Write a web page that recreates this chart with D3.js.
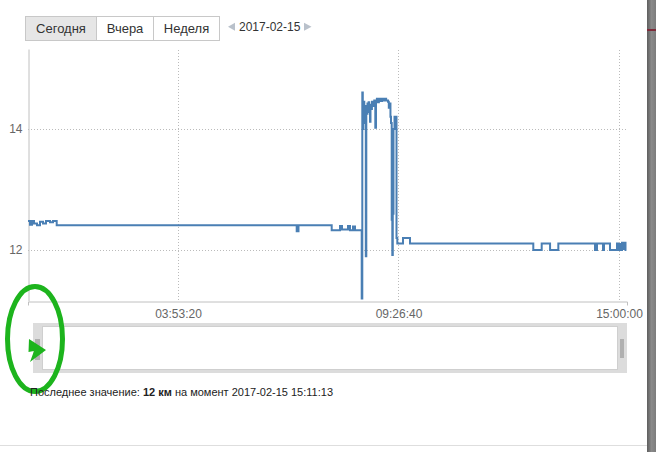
<!DOCTYPE html>
<html>
<head>
<meta charset="utf-8">
<script src="https://cdn.jsdelivr.net/npm/d3@7"></script>
<style>
  html, body { margin: 0; padding: 0; background: #fff; }
  svg { display: block; font-family: "Liberation Sans", Arial, sans-serif; }
</style>
</head>
<body>
<svg id="chart" width="656" height="452"></svg>
<script>
// ---- data ----
const times = [
  "00:06:35","00:09:36","00:12:38","00:15:39","00:20:11","00:24:43","00:29:15","00:33:48",
  "00:39:50","00:44:23","00:49:58","06:52:47","06:55:30","07:45:41","07:58:14","08:01:15",
  "08:10:20","08:13:21","08:17:53","08:20:55","08:31:03","08:31:57","08:32:42","08:33:28",
  "08:34:58","08:36:29","08:37:15","08:38:00","08:39:00","08:39:45","08:40:34","08:41:30",
  "08:42:20","08:43:35","08:44:20","08:45:06","08:46:30","08:48:08","08:50:00","08:51:36",
  "08:52:40","08:54:00","08:55:41","08:57:00","08:59:00","09:01:44","09:03:30","09:06:16",
  "09:08:00","09:10:48","09:12:00","09:13:49","09:14:30","09:15:20",
  "09:16:24","09:17:18","09:18:03","09:19:07","09:20:38","09:23:39","09:24:52","09:33:29",
  "09:44:04","12:50:27","13:03:09","13:15:48","13:28:17","14:23:43","14:26:45","14:35:49",
  "14:37:20","14:46:24","14:56:59","14:58:30","15:00:46","15:02:16","15:04:33","15:06:03",
  "15:08:19","15:09:50","15:11:13"
];
const values = [
  12.48,12.42,12.48,12.44,12.41,12.47,12.44,12.48,
  12.46,12.48,12.41,12.31,12.41,12.33,12.40,12.34,
  12.40,12.33,12.39,12.33,11.20,14.60,14.00,14.45,
  14.10,14.35,11.90,14.38,14.25,14.42,14.30,14.44,
  14.28,14.12,14.40,14.33,14.45,14.38,14.47,14.02,
  14.45,14.50,14.44,14.50,14.46,14.50,14.47,14.50,
  14.47,14.45,14.35,14.42,14.20,14.10,
  12.50,11.92,12.60,14.00,14.20,12.20,12.11,12.20,
  12.11,12.00,12.11,12.00,12.11,12.00,12.11,12.00,
  12.11,12.00,12.11,12.00,12.10,12.00,12.12,12.02,
  12.12,12.00,12.00
];
const xTickLabels = ["03:53:20","09:26:40","15:00:00"];
const yTicks = [12, 14];
const xDomainLabels = ["00:06:35","15:12:06"];
const yDomain = [11.16, 15.32];
const buttons = ["Сегодня","Вчера","Неделя"];
const dateLabel = "2017-02-15";
const lastValue = "12 км";
const lastTime = "2017-02-15 15:11:13";

(function () {
// ---- helpers ----
const toSec = s => { const p = s.split(":").map(Number); return p[0]*3600 + p[1]*60 + p[2]; };
const pad = n => String(n).padStart(2, "0");
const fmt = s => pad(Math.floor(s/3600)) + ":" + pad(Math.floor(s%3600/60)) + ":" + pad(s%60);
const data = times.map((t, i) => ({ t: toSec(t), v: values[i] }));

const svg = d3.select("#chart");
const mLeft = 28, mRight = 627, mTop = 49, mBottom = 301;

const x = d3.scaleLinear().domain(xDomainLabels.map(toSec)).range([mLeft, mRight]);
const y = d3.scaleLinear().domain(yDomain).range([mBottom, mTop]);

// ---- buttons ----
const btnW = [71, 57, 66];
let bx = 25;
const btnG = svg.append("g");
buttons.forEach((b, i) => {
  btnG.append("rect").attr("x", bx + 0.5).attr("y", 16.5).attr("width", btnW[i]).attr("height", 24)
    .attr("fill", i === 0 ? "#e6e6e6" : "#fff").attr("stroke", "#c8c8c8");
  btnG.append("text").attr("x", bx + btnW[i]/2 + 0.5).attr("y", 33).attr("text-anchor", "middle")
    .attr("font-size", 13).attr("fill", "#333").text(b);
  bx += btnW[i];
});
svg.append("path").attr("d", "M235,22.7 L235,30.7 L228,26.7 Z").attr("fill", "#b9c1cb");
svg.append("path").attr("d", "M304,22.7 L304,30.7 L311.5,26.7 Z").attr("fill", "#b9c1cb");
svg.append("text").attr("x", 239).attr("y", 31).attr("font-size", 12).attr("fill", "#333").text(dateLabel);

// ---- gridlines ----
const xt = xTickLabels.map(toSec);
svg.append("g").selectAll("line").data(xt).join("line")
  .attr("x1", d => Math.round(x(d)) + 0.5).attr("x2", d => Math.round(x(d)) + 0.5)
  .attr("y1", 50).attr("y2", mBottom)
  .attr("stroke", "#bbb").attr("stroke-dasharray", "1,2");
svg.append("g").selectAll("line").data(yTicks).join("line")
  .attr("x1", mLeft).attr("x2", mRight)
  .attr("y1", d => Math.round(y(d)) + 0.5).attr("y2", d => Math.round(y(d)) + 0.5)
  .attr("stroke", "#bbb").attr("stroke-dasharray", "1,2");

// ---- axes ----
const xAxis = d3.axisBottom(x).tickValues(xt).tickFormat(fmt).tickSize(0).tickSizeOuter(4).tickPadding(8);
const gx = svg.append("g").attr("transform", `translate(0,${mBottom + 0.5})`).call(xAxis);
gx.select(".domain").attr("stroke", "#c0c0c0");
gx.selectAll("text").attr("font-size", 12).attr("fill", "#666").attr("font-family", "Liberation Sans, Arial, sans-serif");

const yAxis = d3.axisLeft(y).tickValues(yTicks).tickFormat(d3.format("d")).tickSize(0).tickSizeOuter(0).tickPadding(6);
const gy = svg.append("g").attr("transform", `translate(${mLeft + 0.5},0)`).call(yAxis);
gy.select(".domain").attr("stroke", "#c0c0c0");
gy.selectAll("text").attr("font-size", 12).attr("fill", "#666").attr("font-family", "Liberation Sans, Arial, sans-serif");

// ---- line ----
const line = d3.line().x(d => x(d.t)).y(d => y(d.v)).curve(d3.curveStepAfter);
svg.append("path").datum(data).attr("d", line)
  .attr("fill", "none").attr("stroke", "#4a7fb4").attr("stroke-width", 2).attr("stroke-linejoin", "miter");

// ---- navigator ----
svg.append("rect").attr("x", 33).attr("y", 323).attr("width", 594).attr("height", 50).attr("fill", "#dcdcdc");
svg.append("rect").attr("x", 42.5).attr("y", 326.5).attr("width", 575).attr("height", 43).attr("fill", "#fff").attr("stroke", "#cfcfcf");
svg.append("rect").attr("x", 35).attr("y", 339).attr("width", 5).attr("height", 21).attr("fill", "#b0b0b0");
svg.append("rect").attr("x", 620).attr("y", 339).attr("width", 4).attr("height", 19).attr("fill", "#b0b0b0");

// ---- annotation ----
svg.append("ellipse").attr("cx", 35).attr("cy", 339).attr("rx", 27.5).attr("ry", 52.5)
  .attr("fill", "none").attr("stroke", "#1db41d").attr("stroke-width", 5);
svg.append("path").attr("d", "M29,339 L46,350 L30,362 L34,351 L28.5,352 Z").attr("fill", "#1db41d");

// ---- footer text ----
const ft = svg.append("text").attr("x", 30).attr("y", 396).attr("font-size", 11).attr("fill", "#222");
ft.append("tspan").text("Последнее значение: ");
ft.append("tspan").attr("font-weight", "bold").text(lastValue);
ft.append("tspan").text(" на момент " + lastTime);

// ---- page chrome ----
svg.append("line").attr("x1", 0).attr("x2", 647).attr("y1", 445.5).attr("y2", 445.5).attr("stroke", "#dedede");
const grad = svg.append("defs").append("linearGradient").attr("id", "bar").attr("x1", 0).attr("x2", 1);
grad.append("stop").attr("offset", 0).attr("stop-color", "#5e5e5e");
grad.append("stop").attr("offset", 0.5).attr("stop-color", "#8a8a8a");
grad.append("stop").attr("offset", 1).attr("stop-color", "#7c7c7c");
svg.append("rect").attr("x", 647).attr("y", 0).attr("width", 9).attr("height", 452).attr("fill", "url(#bar)");
svg.append("rect").attr("x", 647).attr("y", 29).attr("width", 9).attr("height", 2).attr("fill", "#7d2b3a");
})();
</script>
</body>
</html>
